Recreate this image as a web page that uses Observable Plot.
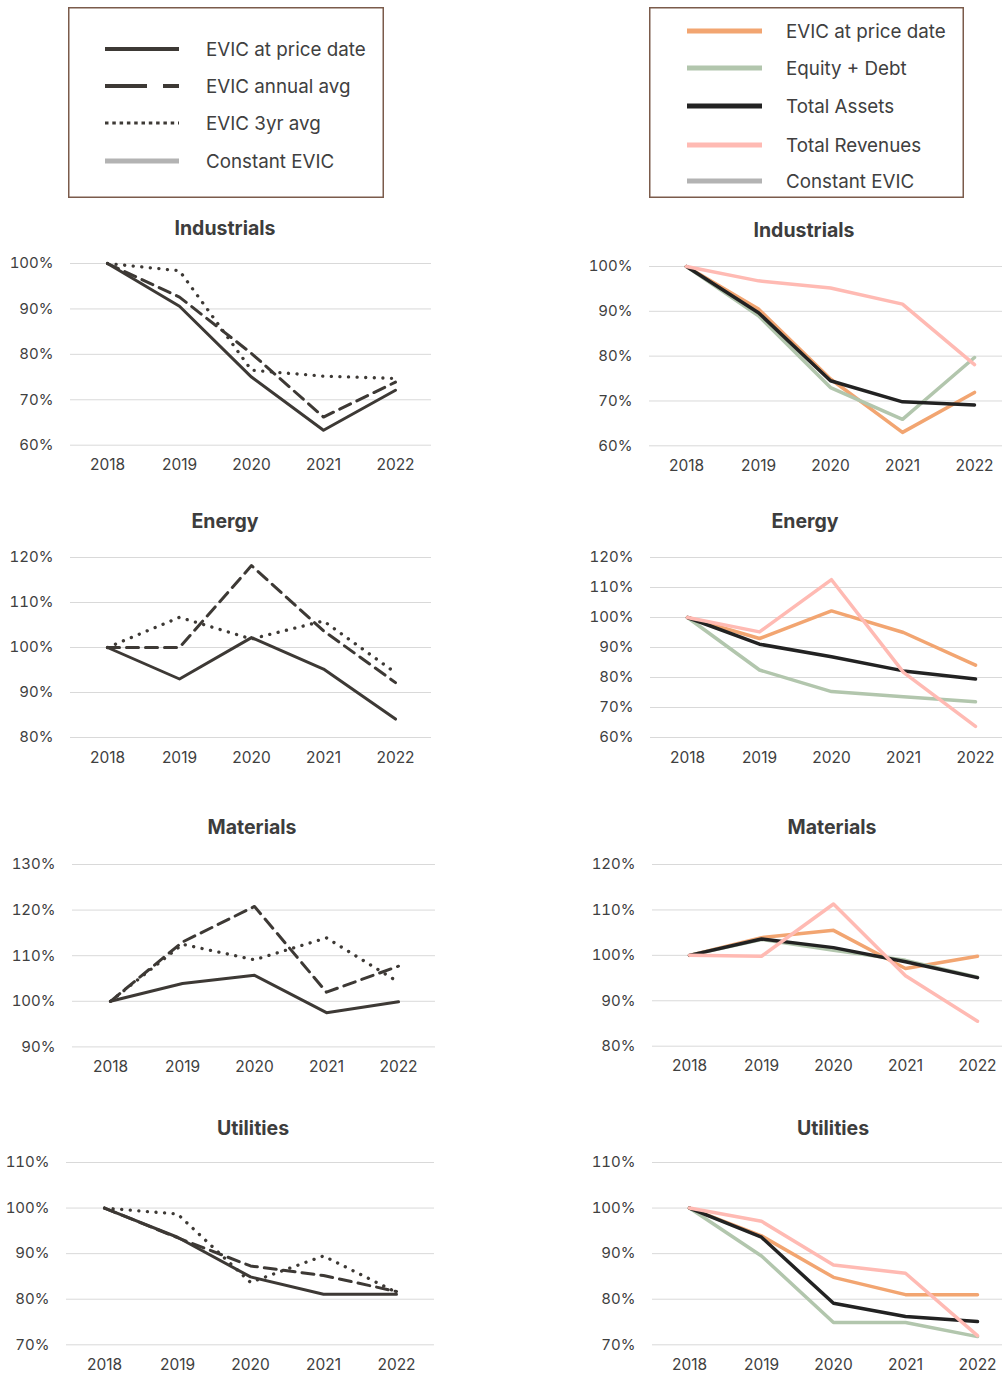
<!DOCTYPE html>
<html>
<head>
<meta charset="utf-8">
<script src="https://cdn.jsdelivr.net/npm/d3@7"></script>
<script src="https://cdn.jsdelivr.net/npm/@observablehq/plot@0.6"></script>
<style>
  html, body { margin: 0; padding: 0; background: #fff; }
  #root { position: relative; width: 1002px; height: 1373px; overflow: hidden; font-family: Inter, "Noto Sans", sans-serif; color: #404040; }
  .title { position: absolute; font-weight: bold; font-size: 19.5px; line-height: 24px; transform: translateX(-50%); white-space: nowrap; color: #3d3d3d; }
  .abs { position: absolute; }
</style>
</head>
<body>
<div id="root"></div>
<script>
// ---------- data ----------
const years = ["2018", "2019", "2020", "2021", "2022"];
const sectors = ["Industrials", "Energy", "Materials", "Utilities"];

const leftSeries = ["EVIC at price date", "EVIC annual avg", "EVIC 3yr avg", "Constant EVIC"];
const rightSeries = ["EVIC at price date", "Equity + Debt", "Total Assets", "Total Revenues", "Constant EVIC"];

// left column (EVIC variants), % of 2018
const indEvicPrice  = [100, 90.6, 75.0, 63.3, 72.1];
const indEvicAnnual = [100, 92.6, 80.2, 66.2, 73.9];
const indEvic3yr    = [100, 98.4, 76.5, 75.2, 74.7];
const engEvicPrice  = [100, 93.0, 102.2, 95.2, 84.1];
const engEvicAnnual = [100, 100.0, 118.2, 103.7, 92.2];
const engEvic3yr    = [100, 106.7, 101.9, 105.9, 94.4];
const matEvicPrice  = [100, 103.9, 105.7, 97.5, 99.9];
const matEvicAnnual = [100, 113.0, 120.8, 102.0, 107.7];
const matEvic3yr    = [100, 112.5, 109.1, 113.9, 104.2];
const utlEvicPrice  = [100, 93.6, 84.9, 81.1, 81.1];
const utlEvicAnnual = [100, 93.5, 87.3, 85.2, 81.7];
const utlEvic3yr    = [100, 98.7, 83.7, 89.5, 81.5];

// right column (denominators), % of 2018
const indPrice  = [100, 90.5, 74.9, 63.0, 71.9];
const indEqDebt = [100, 89.0, 73.0, 65.9, 79.7];
const indAssets = [100, 89.7, 74.5, 69.8, 69.1];
const indRev    = [100, 96.8, 95.2, 91.6, 78.1];
const engPrice  = [100, 93.0, 102.2, 95.0, 84.1];
const engEqDebt = [100, 82.5, 75.3, 73.6, 71.9];
const engAssets = [100, 91.1, 86.9, 82.2, 79.5];
const engRev    = [100, 95.2, 112.6, 81.7, 63.7];
const matPrice  = [100, 103.9, 105.5, 97.1, 99.8];
const matEqDebt = [100, 103.5, 101.1, 98.9, 95.2];
const matAssets = [100, 103.6, 101.7, 98.6, 95.1];
const matRev    = [100, 99.8, 111.3, 95.5, 85.5];
const utlPrice  = [100, 93.9, 84.8, 81.0, 81.0];
const utlEqDebt = [100, 89.5, 74.9, 74.9, 71.8];
const utlAssets = [100, 93.6, 79.1, 76.2, 75.1];
const utlRev    = [100, 97.1, 87.5, 85.7, 72.0];

// y-axis tick values per panel
const yTicksLeft  = [[60, 70, 80, 90, 100], [80, 90, 100, 110, 120], [90, 100, 110, 120, 130], [70, 80, 90, 100, 110]];
const yTicksRight = [[60, 70, 80, 90, 100], [60, 70, 80, 90, 100, 110, 120], [80, 90, 100, 110, 120], [70, 80, 90, 100, 110]];

// ---------- styles ----------
const DARK = "#3d3935";
const leftStyles = [
  {stroke: DARK, strokeWidth: 3},
  {stroke: DARK, strokeWidth: 3, strokeDasharray: "12,7"},
  {stroke: DARK, strokeWidth: 3.3, strokeDasharray: "0.1,8.5", strokeLinecap: "round"},
  {stroke: "#b3b3b3", strokeWidth: 5}
];
const rightStyles = [
  {stroke: "#f2a571", strokeWidth: 3.5},
  {stroke: "#b2c6ad", strokeWidth: 3.5},
  {stroke: "#222222", strokeWidth: 3.5},
  {stroke: "#ffbab3", strokeWidth: 3.5},
  {stroke: "#b3b3b3", strokeWidth: 5}
];

const leftData = [
  [indEvicPrice, indEvicAnnual, indEvic3yr],
  [engEvicPrice, engEvicAnnual, engEvic3yr],
  [matEvicPrice, matEvicAnnual, matEvic3yr],
  [utlEvicPrice, utlEvicAnnual, utlEvic3yr]
];
const rightData = [
  [indPrice, indEqDebt, indAssets, indRev],
  [engPrice, engEqDebt, engAssets, engRev],
  [matPrice, matEqDebt, matAssets, matRev],
  [utlPrice, utlEqDebt, utlAssets, utlRev]
];

// ---------- layout ----------
const leftLayout = [
  {pl: 70, pr: 431, top: 263.3, bottom: 445, title: [225, 216]},
  {pl: 70, pr: 431, top: 556.7, bottom: 736.7, title: [225, 509]},
  {pl: 72, pr: 435, top: 864.3, bottom: 1046.7, title: [252, 815]},
  {pl: 66, pr: 434, top: 1161.7, bottom: 1344, title: [253, 1116]}
];
const rightLayout = [
  {pl: 649, pr: 1011, top: 265.7, bottom: 445, title: [804, 218]},
  {pl: 650, pr: 1011, top: 556.7, bottom: 736.7, title: [805, 509]},
  {pl: 652, pr: 1014, top: 864.3, bottom: 1046, title: [832, 815]},
  {pl: 652, pr: 1014, top: 1161.7, bottom: 1344, title: [833, 1116]}
];

const root = document.getElementById("root");

function panel(lay, svgLeft, ticks, seriesArrays, styles, title) {
  const mt = 10, mb = 36;
  const h = (lay.bottom - lay.top) + mt + mb;
  const w = lay.pr - svgLeft + 12;
  const marks = [
    Plot.gridY(ticks, {stroke: "#d9d9d9", strokeOpacity: 1, strokeWidth: 1}),
    Plot.axisY(ticks, {tickSize: 0, tickPadding: 17, tickFormat: d => d + "%", fontSize: 15, fill: "#404040", label: null}),
    Plot.axisX({tickSize: 0, tickPadding: 14, fontSize: 15.5, fill: "#404040", label: null})
  ];
  seriesArrays.forEach((arr, i) => {
    const rows = years.map((yr, j) => ({year: yr, v: arr[j]}));
    marks.push(Plot.line(rows, {x: "year", y: "v", strokeLinejoin: "round", ...styles[i]}));
  });
  const chart = Plot.plot({
    width: w,
    height: h,
    marginLeft: lay.pl - svgLeft,
    marginRight: w - (lay.pr - svgLeft),
    marginTop: mt,
    marginBottom: mb,
    x: {type: "point", domain: years, padding: 0.5},
    y: {domain: [ticks[0], ticks[ticks.length - 1]]},
    style: {fontFamily: "Inter, 'Noto Sans', sans-serif", fontSize: "15px", color: "#404040", background: "transparent", overflow: "visible"},
    marks
  });
  chart.classList.add("abs");
  chart.style.left = svgLeft + "px";
  chart.style.top = (lay.top - mt) + "px";
  root.appendChild(chart);

  const t = document.createElement("div");
  t.className = "title";
  t.textContent = title;
  t.style.left = lay.title[0] + "px";
  t.style.top = lay.title[1] + "px";
  root.appendChild(t);
}

sectors.forEach((s, i) => {
  panel(leftLayout[i], 0, yTicksLeft[i], leftData[i], leftStyles, s);
  panel(rightLayout[i], 580, yTicksRight[i], rightData[i], rightStyles, s);
});

// ---------- legends ----------
function legend(box, names, styles, rowYs, lineX, textX, legendStyleOverride) {
  const svg = d3.select(root).append("svg")
    .attr("class", "abs")
    .style("left", box.x + "px").style("top", box.y + "px")
    .attr("width", box.w).attr("height", box.h);
  svg.append("rect").attr("x", 0.75).attr("y", 0.75)
    .attr("width", box.w - 1.5).attr("height", box.h - 1.5)
    .attr("fill", "none").attr("stroke", "#7b5b4b").attr("stroke-width", 1.5);
  names.forEach((n, i) => {
    const st = legendStyleOverride ? legendStyleOverride[i] : styles[i];
    const y = rowYs[i] - box.y;
    svg.append("line")
      .attr("x1", lineX[0] - box.x).attr("x2", lineX[1] - box.x)
      .attr("y1", y).attr("y2", y)
      .attr("stroke", st.stroke).attr("stroke-width", st.strokeWidth)
      .attr("stroke-dasharray", st.strokeDasharray || null)
      .attr("stroke-linecap", st.strokeLinecap || "butt");
    svg.append("text")
      .attr("x", textX - box.x).attr("y", y).attr("dy", "0.35em")
      .attr("font-size", 18.8).attr("fill", "#404040")
      .attr("font-family", "Inter, 'Noto Sans', sans-serif")
      .text(n);
  });
}

legend({x: 68, y: 7, w: 316, h: 191}, leftSeries, leftStyles, [49, 86, 123, 161], [105, 179], 206, [
  {stroke: DARK, strokeWidth: 4},
  {stroke: DARK, strokeWidth: 4, strokeDasharray: "42,16"},
  {stroke: DARK, strokeWidth: 3, strokeDasharray: "3.5,3.8"},
  {stroke: "#b3b3b3", strokeWidth: 5}
]);
legend({x: 649, y: 7, w: 315, h: 191}, rightSeries, rightStyles, [31, 68, 106, 145, 181], [687, 762], 786, [
  {stroke: "#f2a571", strokeWidth: 5},
  {stroke: "#b2c6ad", strokeWidth: 5},
  {stroke: "#222222", strokeWidth: 5},
  {stroke: "#ffbab3", strokeWidth: 5},
  {stroke: "#b3b3b3", strokeWidth: 5}
]);
</script>
</body>
</html>
